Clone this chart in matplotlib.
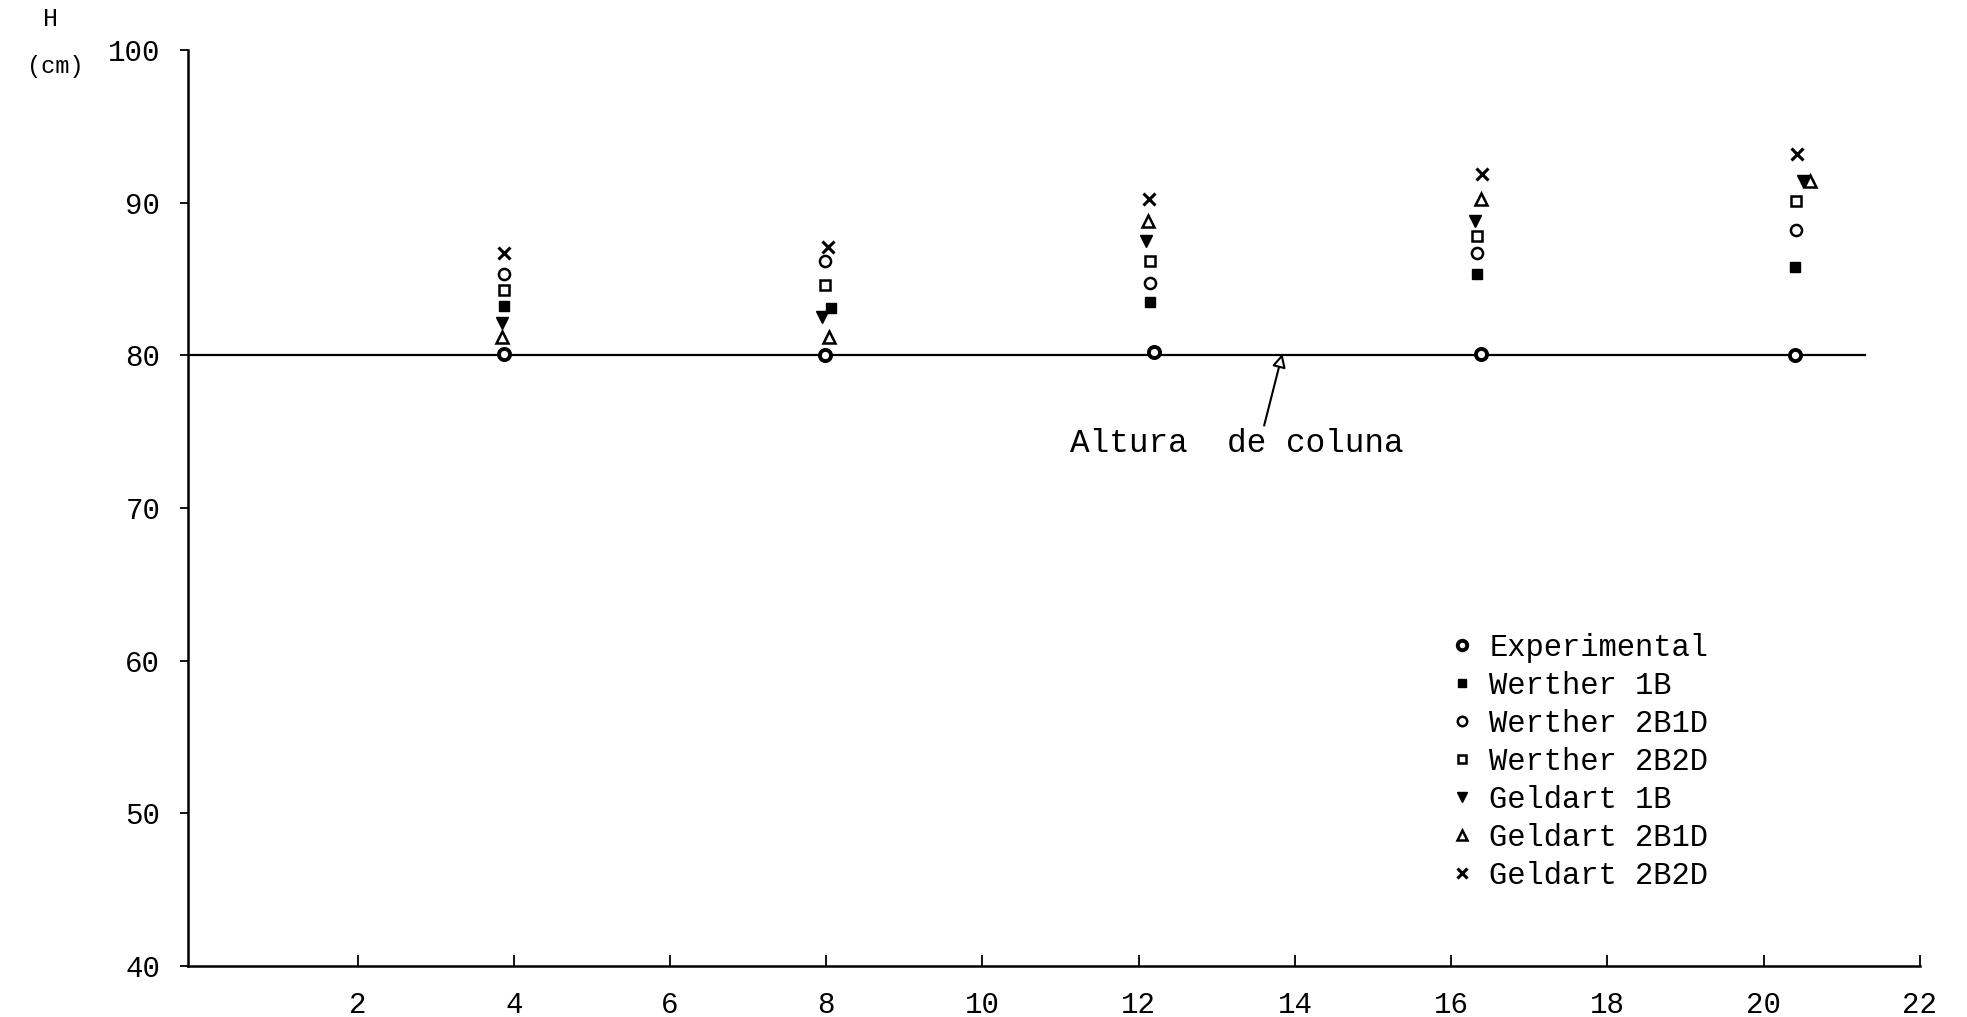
import matplotlib
matplotlib.use("Agg")
import matplotlib.pyplot as plt

plt.rcParams['font.family'] = ['Liberation Mono', 'DejaVu Sans Mono']

# valores (x aproximado de cada ponto, altura H em cm)
exp_x = [3.88, 7.99, 12.2, 16.38, 20.4]
exp_h = [80.1, 80.0, 80.2, 80.1, 80.0]

w1b_x = [3.88, 8.06, 12.15, 16.33, 20.4]
w1b_h = [83.2, 83.1, 83.5, 85.3, 85.8]

w2b1d_x = [3.88, 7.99, 12.14, 16.33, 20.42]
w2b1d_h = [85.3, 86.2, 84.7, 86.7, 88.2]

w2b2d_x = [3.88, 7.99, 12.14, 16.33, 20.42]
w2b2d_h = [84.3, 84.6, 86.2, 87.8, 90.1]

g1b_x = [3.85, 7.95, 12.1, 16.3, 20.5]
g1b_h = [82.1, 82.5, 87.5, 88.8, 91.4]

g2b1d_x = [3.85, 8.04, 12.12, 16.38, 20.6]
g2b1d_h = [81.2, 81.2, 88.8, 90.2, 91.4]

g2b2d_x = [3.88, 8.02, 12.13, 16.39, 20.43]
g2b2d_h = [86.7, 87.1, 90.2, 91.9, 93.2]

coluna_h = 80
coluna_x = [-0.17, 21.3]

x_ticks = [2, 4, 6, 8, 10, 12, 14, 16, 18, 20, 22]
y_ticks = [40, 50, 60, 70, 80, 90, 100]

fig = plt.figure(figsize=(19.67, 10.17), dpi=100)
ax = fig.add_axes([0.0956, 0.0501, 0.8804, 0.9009])

# linha da altura de coluna
ax.plot(coluna_x, [coluna_h, coluna_h], color='black', lw=1.6, zorder=1)

ms = 8
ax.plot(exp_x, exp_h, 'o', ms=ms, mfc='white', mec='black', mew=2.8,
        label='Experimental', zorder=3)
ax.plot(w1b_x, w1b_h, 's', ms=ms - 1, mfc='black', mec='black',
        label='Werther 1B', zorder=3)
ax.plot(w2b1d_x, w2b1d_h, 'o', ms=ms, mfc='white', mec='black', mew=1.8,
        label='Werther 2B1D', zorder=3)
ax.plot(w2b2d_x, w2b2d_h, 's', ms=ms - 1, mfc='white', mec='black', mew=1.8,
        label='Werther 2B2D', zorder=3)
ax.plot(g1b_x, g1b_h, 'v', ms=ms, mfc='black', mec='black',
        label='Geldart 1B', zorder=3)
ax.plot(g2b1d_x, g2b1d_h, '^', ms=ms, mfc='white', mec='black', mew=1.8,
        label='Geldart 2B1D', zorder=3)
ax.plot(g2b2d_x, g2b2d_h, 'x', ms=ms, color='black', mew=2.2,
        label='Geldart 2B2D', zorder=3)

ax.annotate('Altura  de coluna', xy=(13.84, 80.1), xytext=(11.12, 74.2),
            fontsize=23.6, va='center', ha='left',
            arrowprops=dict(arrowstyle='-|>', color='black', lw=1.5,
                            mutation_scale=20, fc='white',
                            shrinkA=0, shrinkB=0,
                            relpos=(0.58, 1.0)))

ax.set_xlim(-0.17, 22)
ax.set_ylim(40, 100)
ax.set_xticks(x_ticks)
ax.set_yticks(y_ticks)
ax.tick_params(axis='x', direction='in', length=8, width=1.3, pad=18, labelsize=21)
ax.tick_params(axis='y', direction='out', length=6, width=1.3, pad=14, labelsize=21)

for s in ['top', 'right']:
    ax.spines[s].set_visible(False)
for s in ['left', 'bottom']:
    ax.spines[s].set_linewidth(1.8)

ax.legend(loc='upper left', bbox_to_anchor=(15.98, 61.8), bbox_transform=ax.transData,
          frameon=False, fontsize=22, handlelength=0.8, handletextpad=0.5,
          borderpad=0, borderaxespad=0, labelspacing=0.26, markerscale=0.85)

fig.text(50 / 1967, 1 - 19 / 1017, 'H', fontsize=18, ha='center', va='center')
fig.text(55 / 1967, 1 - 66 / 1017, '(cm)', fontsize=17, ha='center', va='center')

fig.savefig('out.png', dpi=100, facecolor='white')
